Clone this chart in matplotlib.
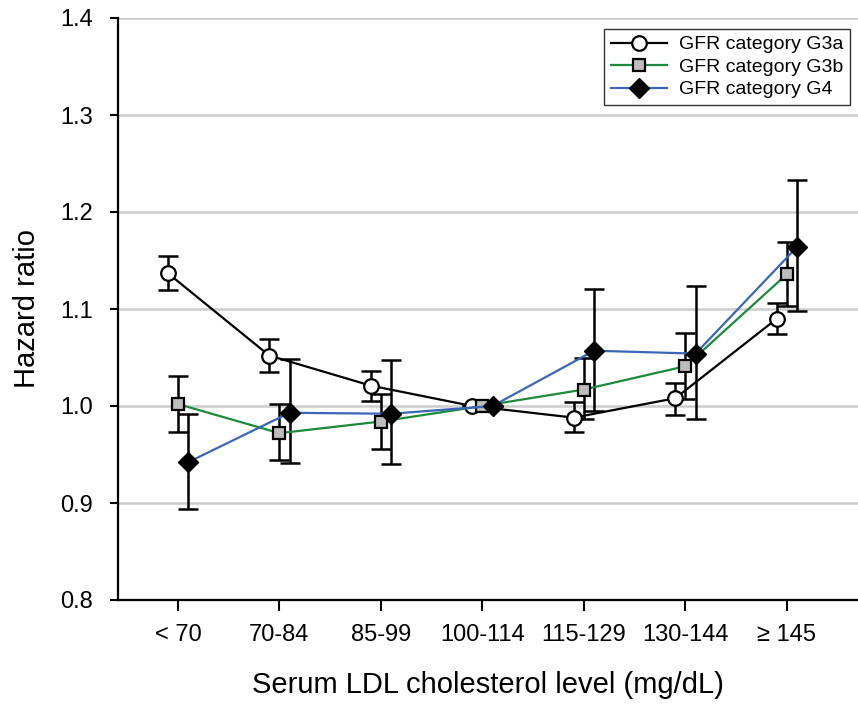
import matplotlib
matplotlib.use('Agg')
import matplotlib.pyplot as plt
import numpy as np

###################################################################################################

# data
categories = ['< 70', '70-84', '85-99', '100-114', '115-129', '130-144', '\u2265 145']

g3a_hr = [1.137, 1.052, 1.021, 1.000, 0.988, 1.008, 1.090]
g3a_lo = [1.120, 1.035, 1.005, 1.000, 0.973, 0.991, 1.074]
g3a_hi = [1.155, 1.069, 1.036, 1.000, 1.004, 1.024, 1.106]

g3b_hr = [1.002, 0.972, 0.984, 1.000, 1.017, 1.041, 1.136]
g3b_lo = [0.973, 0.944, 0.956, 1.000, 0.987, 1.007, 1.103]
g3b_hi = [1.031, 1.002, 1.012, 1.000, 1.049, 1.075, 1.169]

g4_hr = [0.942, 0.993, 0.992, 1.000, 1.057, 1.054, 1.164]
g4_lo = [0.894, 0.941, 0.940, 1.000, 0.995, 0.987, 1.098]
g4_hi = [0.992, 1.048, 1.047, 1.000, 1.121, 1.124, 1.233]

yticks = [0.8, 0.9, 1.0, 1.1, 1.2, 1.3, 1.4]

###################################################################################################

plt.rcParams['font.family'] = ['Liberation Sans', 'DejaVu Sans']

fig = plt.figure(figsize=(8.58, 7.07), dpi=100)
ax = fig.add_axes([118/858, 1 - 600/707, 740/858, 582/707])

x = np.arange(len(categories))

series = [
    (g3a_hr, g3a_lo, g3a_hi, -0.1, 'GFR category G3a',
     dict(color='black', marker='o', markersize=10.5, markerfacecolor='white',
          markeredgecolor='black', markeredgewidth=1.6)),
    (g3b_hr, g3b_lo, g3b_hi, 0.0, 'GFR category G3b',
     dict(color='#1b8a3c', marker='s', markersize=8.5, markerfacecolor='#bdbdbd',
          markeredgecolor='black', markeredgewidth=1.6)),
    (g4_hr, g4_lo, g4_hi, 0.1, 'GFR category G4',
     dict(color='#3a66b8', marker='D', markersize=10.5, markerfacecolor='black',
          markeredgecolor='black', markeredgewidth=1.0)),
]

handles = []
for z, (hr, lo, hi, off, lab, style) in enumerate(series):
    hr = np.array(hr)
    yerr = np.array([hr - np.array(lo), np.array(hi) - hr])
    xs = x + off
    ax.errorbar(xs, hr, yerr=yerr, fmt='none', ecolor='black', elinewidth=1.8,
                capsize=7.5, capthick=1.8, zorder=3 + z)
    h, = ax.plot(xs, hr, linewidth=1.6, label=lab, zorder=6 + z, **style)
    handles.append(h)

ax.set_xlim(-0.59, 6.70)
ax.set_ylim(0.8, 1.4)
ax.set_xticks(x)
ax.set_xticklabels(categories)
ax.set_yticks(yticks)
ax.set_yticklabels(['%.1f' % v for v in yticks])

for v in yticks[1:]:
    ax.axhline(v, color='#cccccc', linewidth=1.8, zorder=0)

for side in ['top', 'right']:
    ax.spines[side].set_visible(False)
for side in ['left', 'bottom']:
    ax.spines[side].set_linewidth(1.6)

ax.tick_params(axis='y', direction='out', length=6, width=1.5, pad=12, labelsize=17)
ax.tick_params(axis='x', direction='out', length=8, width=1.5, pad=9, labelsize=17)

ax.set_ylabel('Hazard ratio', fontsize=21, labelpad=14)
ax.set_xlabel('Serum LDL cholesterol level (mg/dL)', fontsize=21, labelpad=18)

leg = ax.legend(handles=handles, loc='upper right', bbox_to_anchor=((850-118)/740, (600-29)/582),
                fontsize=14, frameon=True, fancybox=False, edgecolor='black',
                handlelength=2.9, borderpad=0.35, labelspacing=0.25, handletextpad=0.6,
                borderaxespad=0)
leg.get_frame().set_linewidth(1.0)

fig.savefig('out.png', dpi=100)
